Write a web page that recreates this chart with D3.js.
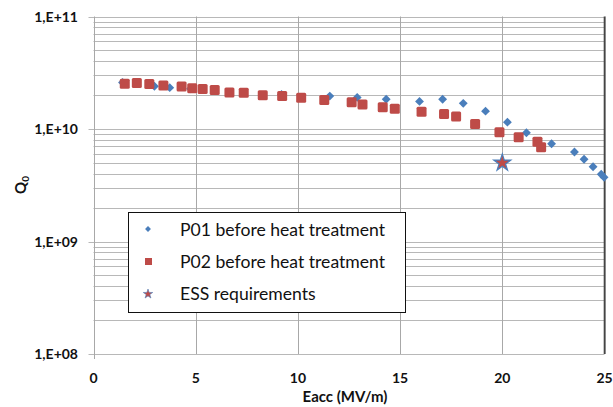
<!DOCTYPE html>
<html>
<head>
<meta charset="utf-8">
<script src="https://cdn.jsdelivr.net/npm/d3@7"></script>
<style>
  body { margin: 0; background: #fff; }
  text { font-family: Lato, "Open Sans", sans-serif; fill: #111; }
</style>
</head>
<body>
<svg id="drawing" width="613" height="407"></svg>
<script>
// P01 before heat treatment (blue diamonds)
const p01Eacc = [1.42, 2.98, 3.73, 4.75, 9.20, 11.56, 12.90, 14.32, 15.95, 17.08, 18.09, 19.18, 20.25, 21.18, 22.41, 23.53, 24.00, 24.44, 24.84, 24.98]
const p01Q0 = [2.59e10, 2.40e10, 2.33e10, 2.28e10, 2.03e10, 1.96e10, 1.91e10, 1.84e10, 1.76e10, 1.84e10, 1.69e10, 1.44e10, 1.15e10, 9.27e9, 7.40e9, 6.25e9, 5.38e9, 4.62e9, 3.96e9, 3.72e9]

// P02 before heat treatment (red squares)
const p02Eacc = [1.53, 2.12, 2.73, 3.42, 4.31, 4.83, 5.34, 5.93, 6.65, 7.35, 8.28, 9.23, 10.16, 11.29, 12.63, 13.16, 14.15, 14.74, 16.05, 17.15, 17.74, 18.67, 19.86, 20.80, 21.72, 21.90]
const p02Q0 = [2.52e10, 2.56e10, 2.51e10, 2.44e10, 2.39e10, 2.30e10, 2.27e10, 2.22e10, 2.11e10, 2.10e10, 2.00e10, 1.96e10, 1.90e10, 1.81e10, 1.73e10, 1.65e10, 1.56e10, 1.51e10, 1.42e10, 1.36e10, 1.29e10, 1.11e10, 9.36e9, 8.43e9, 7.71e9, 6.90e9]

// ESS requirements (star)
const essEacc = [20]
const essQ0 = [5e9]

const xTicks = [0, 5, 10, 15, 20, 25]
const yTicks = [1e8, 1e9, 1e10, 1e11]
const yTickLabels = ["1,E+08", "1,E+09", "1,E+10", "1,E+11"]
const legendLabels = ["P01 before heat treatment", "P02 before heat treatment", "ESS requirements"]

const blue = "#4a7ebb"
const red = "#be4b48"

const svg = d3.select("#drawing")

const x = d3.scaleLinear().domain([0, 25]).range([93.5, 604.5])
const y = d3.scaleLog().domain([1e8, 1e11]).range([354, 16.5])

// minor log gridlines (2..9 in each decade)
const minor = []
for (let e = 8; e < 11; e++) {
    for (let m = 2; m <= 9; m++) minor.push(m * Math.pow(10, e))
}

const grid = svg.append("g").attr("stroke", "#b8b8b8").attr("stroke-width", 1)
grid.selectAll(".minor").data(minor).enter().append("line")
    .attr("x1", x(0)).attr("x2", x(25))
    .attr("y1", d => Math.round(y(d)) + 0.5).attr("y2", d => Math.round(y(d)) + 0.5)
grid.selectAll(".major").data(yTicks).enter().append("line")
    .attr("x1", x(0) - 5).attr("x2", x(25))
    .attr("y1", d => Math.round(y(d)) + 0.5).attr("y2", d => Math.round(y(d)) + 0.5)
grid.selectAll(".vert").data(xTicks).enter().append("line")
    .attr("stroke", "#a8a8a8")
    .attr("x1", d => Math.round(x(d)) + 0.5).attr("x2", d => Math.round(x(d)) + 0.5)
    .attr("y1", y(1e11)).attr("y2", d => d === 0 ? y(1e8) + 5 : y(1e8))

// right border
svg.append("line")
    .attr("x1", x(25)).attr("x2", x(25))
    .attr("y1", y(1e11)).attr("y2", y(1e8))
    .attr("stroke", "#444").attr("stroke-width", 1.6)

// y tick labels
svg.append("g").selectAll("text").data(yTicks).enter().append("text")
    .attr("x", 78).attr("y", d => y(d) + 5)
    .attr("text-anchor", "end")
    .attr("font-size", 14).attr("font-weight", "bold")
    .text((d, i) => yTickLabels[i])

// x tick labels
svg.append("g").selectAll("text").data(xTicks).enter().append("text")
    .attr("x", d => x(d)).attr("y", 383)
    .attr("text-anchor", "middle")
    .attr("font-size", 14).attr("font-weight", "bold")
    .text(d => d)

svg.append("text")
    .attr("x", 345).attr("y", 402)
    .attr("text-anchor", "middle")
    .attr("font-size", 15).attr("font-weight", "bold")
    .text("Eacc (MV/m)")

const qLabel = svg.append("text")
    .attr("transform", "translate(26,185) rotate(-90)")
    .attr("text-anchor", "middle")
    .attr("font-size", 15).attr("font-weight", "bold")
qLabel.append("tspan").text("Q")
qLabel.append("tspan").attr("font-size", 10).attr("dy", 3).text("0")

// series
const diamond = d3.symbol().type(d3.symbolDiamond2).size(50)
const star = d3.symbol().type(d3.symbolStar).size(90)

svg.append("g").selectAll("path").data(d3.zip(p01Eacc, p01Q0)).enter().append("path")
    .attr("d", diamond)
    .attr("fill", blue)
    .attr("transform", d => "translate(" + [x(d[0]), y(d[1])] + ")")

svg.append("g").selectAll("rect").data(d3.zip(p02Eacc, p02Q0)).enter().append("rect")
    .attr("x", d => x(d[0]) - 5).attr("y", d => y(d[1]) - 5)
    .attr("width", 10).attr("height", 10).attr("rx", 1.5)
    .attr("fill", red)

svg.append("g").selectAll("path").data(d3.zip(essEacc, essQ0)).enter().append("path")
    .attr("d", star)
    .attr("fill", red).attr("stroke", blue).attr("stroke-width", 1.2)
    .attr("transform", d => "translate(" + [x(d[0]), y(d[1])] + ")")

// legend
const legend = svg.append("g")
legend.append("rect")
    .attr("x", 128.5).attr("y", 212.5).attr("width", 277).attr("height", 100)
    .attr("fill", "#fff").attr("stroke", "#111").attr("stroke-width", 1)

const rows = legend.selectAll(".row").data(legendLabels).enter().append("g")
    .attr("transform", (d, i) => "translate(0," + (230 + i * 32) + ")")
rows.append("text")
    .attr("x", 180).attr("y", 5.5)
    .attr("font-size", 17.6)
    .text(d => d)

legend.append("path").attr("d", d3.symbol().type(d3.symbolDiamond2).size(22))
    .attr("fill", blue).attr("transform", "translate(148,229)")
legend.append("rect").attr("x", 145).attr("y", 258).attr("width", 7).attr("height", 7)
    .attr("fill", red)
legend.append("path").attr("d", d3.symbol().type(d3.symbolStar).size(28))
    .attr("fill", red).attr("stroke", blue).attr("stroke-width", 0.6)
    .attr("transform", "translate(148,294)")
</script>
</body>
</html>
